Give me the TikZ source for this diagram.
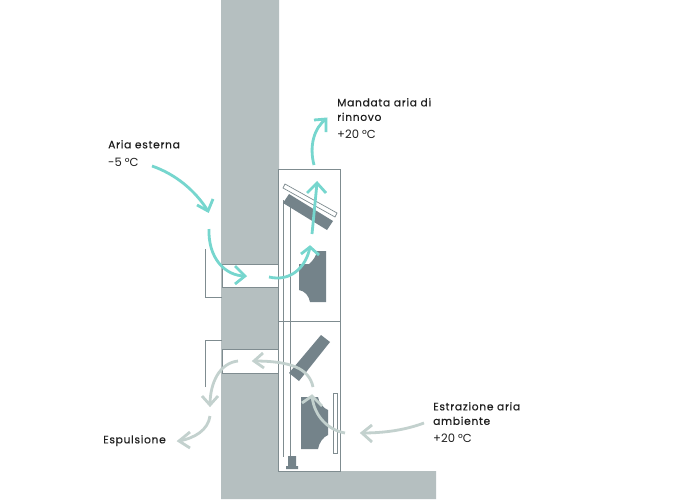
\documentclass[tikz,border=0pt]{standalone}
\usepackage{fontspec}
\setmainfont{Poppins}
\newfontface\namefont{Poppins}[LetterSpace=6.5,FakeBold=0.4]
\newfontface\valfont{Poppins}
\definecolor{wallc}{HTML}{B5BFC0}
\definecolor{darkc}{HTML}{74838A}
\definecolor{linec}{HTML}{7F8C90}
\definecolor{teal}{HTML}{76D6CE}
\definecolor{pale}{HTML}{C3D1CE}
\newcommand{\valtext}[1]{{\fontsize{11.6pt}{14.5pt}\valfont #1}}
\tikzset{
 wall/.style={fill=wallc,draw=none},
 duct/.style={fill=white,draw=linec,line width=0.7pt},
 thin/.style={draw=linec,line width=0.9pt},
 dark/.style={fill=darkc,draw=none},
 flowa/.style={draw=teal,line width=2.8pt},
 flowb/.style={draw=pale,line width=2.8pt},
 head/.style={line width=2.8pt,line join=miter},
 lab/.style={anchor=north west,align=left,font=\fontsize{10.7pt}{14.5pt}\selectfont,text=black!88,inner sep=0pt}
}
\begin{document}
\begin{tikzpicture}[x=1pt,y=-1pt]
\useasboundingbox (0,0) rectangle (687,500);
\fill[white] (0,0) rectangle (687,500);
\path[wall] (221,0) -- (279,0) -- (279,471) -- (436,471) -- (436,499) -- (221,499) -- cycle;
\draw[duct,fill=white] (222,264) rectangle (278,287);
\draw[duct,fill=white] (222,349) rectangle (278,373);
\draw[thin] (205,249) -- (205,297) -- (222,297);
\draw[thin] (205,387) -- (205,340) -- (222,340);
\draw[duct,line width=0.9pt] (278,169) rectangle (340,471);
\draw[draw=linec,line width=0.5pt] (278,321) -- (340,321);
\draw[thin] (283,200) -- (283,457);
\draw[thin] (290.5,200) -- (290.5,457);
% upper filter and damper
\path[duct,line width=0.7pt] (285,184) -- (337,213) -- (335,217) -- (283,188) -- cycle;
\path[dark] (289,194) -- (333,221) -- (327,230) -- (283,203) -- cycle;
% upper fan
\path[dark] (317,251) -- (326,251) -- (326,302) -- (310,302) .. controls (309,296) and (305,291) .. (299,290) -- (299,264) -- (309,264) .. controls (313,261) and (316,256) .. (317,251) -- cycle;
% lower damper
\path[dark] (321,335) -- (330,342) -- (299,381) -- (289,373) -- cycle;
% lower fan
\path[dark] (301,397) -- (318,397) .. controls (319,403) and (323,408) .. (328,410) -- (328,435) .. controls (323,437) and (319,443) .. (318,449) -- (301,449) -- cycle;
\path[duct,line width=0.7pt] (333,393.5) rectangle (337,453);
% foot
\path[dark] (288,456) -- (296,456) -- (296,466) -- (298,466) -- (298,469) -- (286,469) -- (286,466) -- (288,466) -- cycle;
% teal flows
\coordinate (a1) at (152,166); \coordinate (a2) at (208,211);
\coordinate (b1) at (209,229); \coordinate (b2) at (245,276);
\coordinate (c1) at (269,277); \coordinate (c2) at (310,247);
\coordinate (d1) at (312,234); \coordinate (d2) at (317,183);
\coordinate (e1) at (314,165); \coordinate (e2) at (326,119);
\draw[flowa] (a1) .. controls (175,174) and (195,190) .. (a2);
\draw[head,teal] (197,205) -- (a2) -- (213,199);
\draw[flowa] (b1) .. controls (208,258) and (225,276) .. (b2);
\draw[head,teal] (235,266) -- (b2) -- (235,284);
\draw[flowa] (c1) .. controls (290,282) and (306,268) .. (c2);
\draw[head,teal] (301,254) -- (c2) -- (319,255);
\draw[flowa] (d1) -- (d2);
\draw[head,teal] (307,193) -- (d2) -- (326,193);
\draw[flowa] (e1) .. controls (309,146) and (314,128) .. (e2);
\draw[head,teal] (314,120) -- (e2) -- (326,132);
% grey flows
\coordinate (f1) at (345,433); \coordinate (f2) at (312,396);
\coordinate (g1) at (313,387); \coordinate (g2) at (254,361);
\coordinate (h1) at (238,361); \coordinate (h2) at (210,405);
\coordinate (i1) at (210,416); \coordinate (i2) at (179,441);
\coordinate (j1) at (424,423); \coordinate (j2) at (362,433);
\draw[flowb] (f1) .. controls (328,430) and (314,416) .. (f2);
\draw[head,pale] (302,403) -- (f2) -- (322,406);
\draw[flowb] (g1) .. controls (309,368) and (290,361) .. (g2);
\draw[head,pale] (263,353) -- (g2) -- (264,368);
\draw[flowb] (h1) .. controls (220,363) and (210,382) .. (h2);
\draw[head,pale] (202,396) -- (h2) -- (218,396);
\draw[flowb] (i1) .. controls (208,430) and (195,438) .. (i2);
\draw[head,pale] (190,432) -- (i2) -- (190,448);
\draw[flowb] (j1) .. controls (405,430) and (385,433) .. (j2);
\draw[head,pale] (372,425) -- (j2) -- (372,442);
% labels
\node[lab] (l1) at (108,140) {{\namefont Aria esterna}\\[3.5pt]\valtext{-5 °C}};
\node[lab] (l2) at (337,98) {{\namefont Mandata aria di}\\{\namefont rinnovo}\\[3pt]\valtext{+20 °C}};
\node[lab] (l3) at (433,402) {{\namefont Estrazione aria}\\{\namefont ambiente}\\[3pt]\valtext{+20 °C}};
\node[lab] (l4) at (103,435) {{\namefont Espulsione}};
\end{tikzpicture}
\end{document}
